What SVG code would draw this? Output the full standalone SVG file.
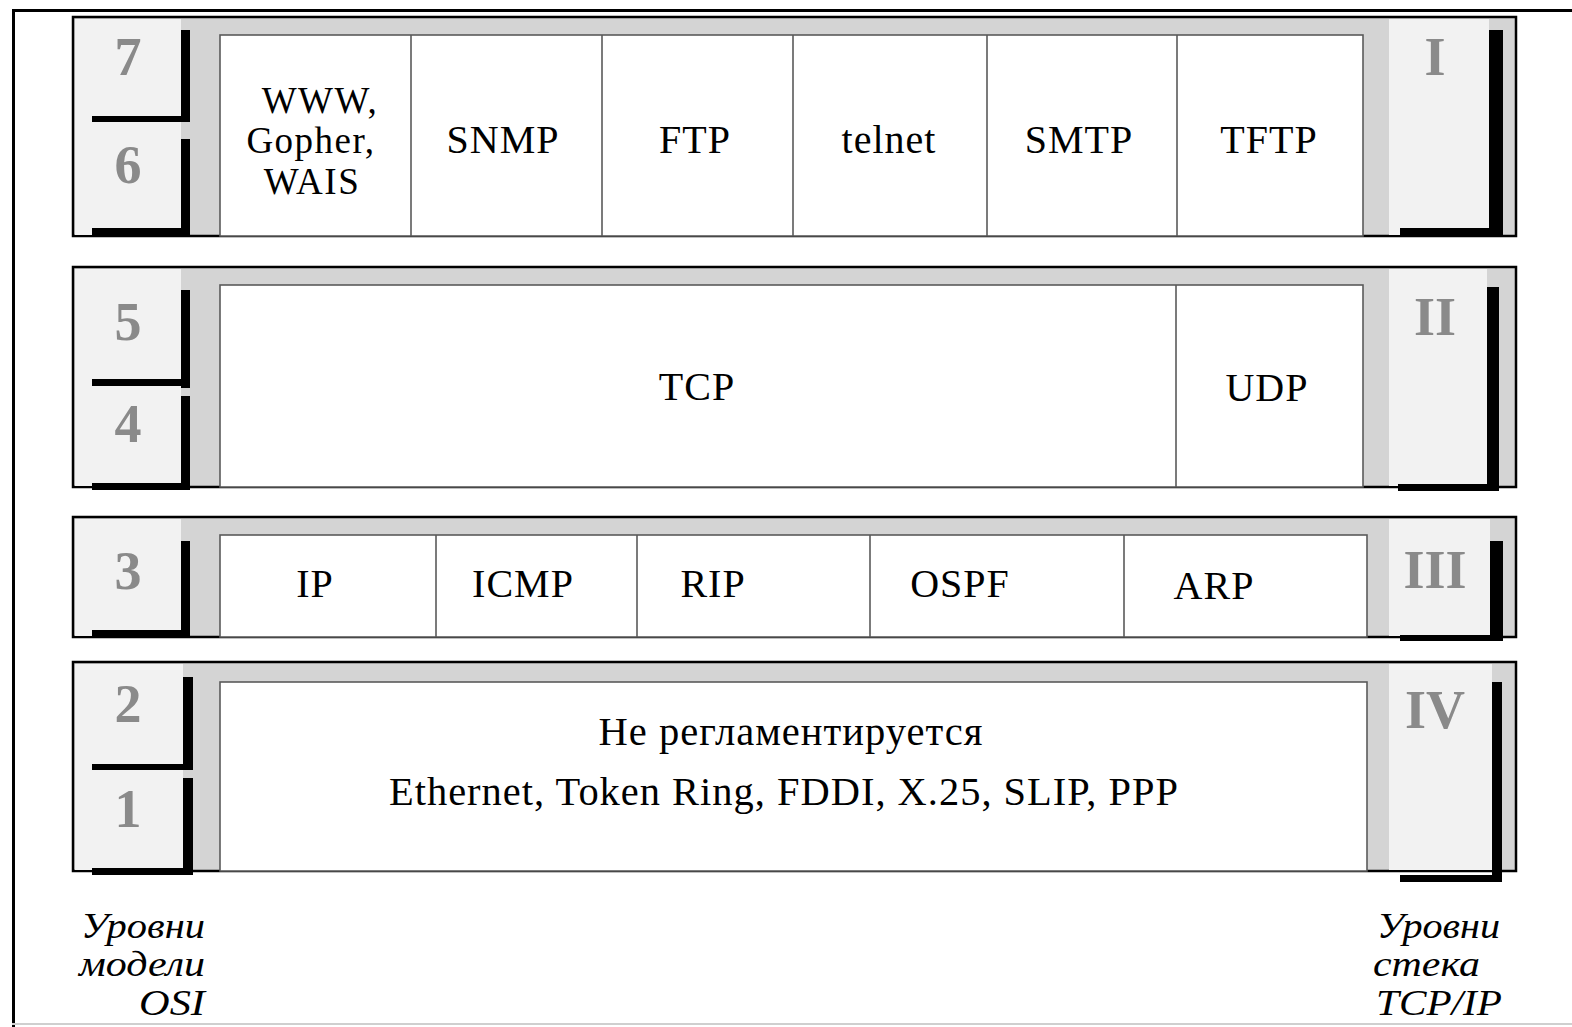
<svg xmlns="http://www.w3.org/2000/svg" width="1572" height="1027" viewBox="0 0 1572 1027">
  <style>
    .band { fill: #d4d4d4; stroke: #000; stroke-width: 2.5; }
    .panel { fill: #f2f2f2; }
    .cell { fill: #fff; stroke: #5a5a5a; stroke-width: 1.6; }
    .div { stroke: #5a5a5a; stroke-width: 1.6; }
    .bar { fill: #000; }
    .proto { font-family: "Liberation Serif", "Times New Roman", serif; font-size: 40px; letter-spacing: 1px; fill: #000; text-anchor: middle; }
    .stack { font-size: 37px; letter-spacing: 1.5px; }
    .num { font-family: "Liberation Serif", "Times New Roman", serif; font-size: 54px; font-weight: bold; fill: #8a8a8a; text-anchor: middle; }
    .cap { font-family: "Liberation Serif", "Times New Roman", serif; font-style: italic; font-size: 35px; fill: #000; }
  </style>

  <rect x="0" y="0" width="1572" height="1027" fill="#fff"/>

  <!-- outer frame -->
  <g id="frame">
    <line x1="12" y1="10.5" x2="1572" y2="10.5" stroke="#000" stroke-width="3"/>
    <line x1="13.5" y1="9" x2="13.5" y2="1027" stroke="#000" stroke-width="3"/>
    <line x1="12" y1="1024" x2="1572" y2="1024" stroke="#cfcfcf" stroke-width="2"/>
  </g>

  <!-- Level I : application (OSI 7, 6) -->
  <g id="band-1">
    <rect class="band" x="73" y="17" width="1443" height="219"/>
    <rect class="panel" x="75" y="19" width="106" height="216"/>
    <rect class="panel" x="1389" y="19" width="100" height="216"/>
    <rect class="cell" x="220" y="35" width="1143" height="201"/>
    <line class="div" x1="411" y1="35" x2="411" y2="236"/>
    <line class="div" x1="602" y1="35" x2="602" y2="236"/>
    <line class="div" x1="793" y1="35" x2="793" y2="236" stroke-width="3"/>
    <line class="div" x1="987" y1="35" x2="987" y2="236"/>
    <line class="div" x1="1177" y1="35" x2="1177" y2="236"/>
    <rect class="bar" x="181" y="30" width="9" height="92"/>
    <rect class="bar" x="92" y="116" width="98" height="6"/>
    <rect class="bar" x="181" y="139" width="9" height="97"/>
    <rect class="bar" x="92" y="228" width="98" height="8"/>
    <rect class="bar" x="1489" y="30" width="14" height="206"/>
    <rect class="bar" x="1400" y="228" width="103" height="8"/>
    <text class="num" x="128" y="75">7</text>
    <text class="num" x="128" y="183">6</text>
    <text class="num" x="1435" y="75">I</text>
  </g>
  <g id="node-www">
    <text class="proto stack" x="320" y="113">WWW,</text>
    <text class="proto stack" x="311" y="153">Gopher,</text>
    <text class="proto stack" x="312" y="194">WAIS</text>
  </g>
  <g id="node-snmp"><text class="proto" x="503" y="153">SNMP</text></g>
  <g id="node-ftp"><text class="proto" x="695" y="153">FTP</text></g>
  <g id="node-telnet"><text class="proto" x="889" y="153">telnet</text></g>
  <g id="node-smtp"><text class="proto" x="1079" y="153">SMTP</text></g>
  <g id="node-tftp"><text class="proto" x="1269" y="153">TFTP</text></g>

  <!-- Level II : transport (OSI 5, 4) -->
  <g id="band-2">
    <rect class="band" x="73" y="267" width="1443" height="220"/>
    <rect class="panel" x="75" y="269" width="106" height="217"/>
    <rect class="panel" x="1389" y="269" width="98" height="217"/>
    <rect class="cell" x="220" y="285" width="1143" height="202"/>
    <line class="div" x1="1176" y1="285" x2="1176" y2="487"/>
    <rect class="bar" x="181" y="290" width="9" height="98"/>
    <rect class="bar" x="92" y="379" width="98" height="7"/>
    <rect class="bar" x="181" y="396" width="9" height="94"/>
    <rect class="bar" x="92" y="483" width="98" height="7"/>
    <rect class="bar" x="1487" y="287" width="12" height="204"/>
    <rect class="bar" x="1398" y="484" width="101" height="7"/>
    <text class="num" x="128" y="340">5</text>
    <text class="num" x="128" y="442">4</text>
    <text class="num" x="1435" y="335">II</text>
  </g>
  <g id="node-tcp"><text class="proto" x="697" y="400">TCP</text></g>
  <g id="node-udp"><text class="proto" x="1267" y="401">UDP</text></g>

  <!-- Level III : internetwork (OSI 3) -->
  <g id="band-3">
    <rect class="band" x="73" y="517" width="1443" height="120"/>
    <rect class="panel" x="75" y="519" width="106" height="117"/>
    <rect class="panel" x="1389" y="519" width="101" height="117"/>
    <rect class="cell" x="220" y="535" width="1147" height="102"/>
    <line class="div" x1="436" y1="535" x2="436" y2="637"/>
    <line class="div" x1="637" y1="535" x2="637" y2="637"/>
    <line class="div" x1="870" y1="535" x2="870" y2="637"/>
    <line class="div" x1="1124" y1="535" x2="1124" y2="637"/>
    <rect class="bar" x="181" y="541" width="9" height="96"/>
    <rect class="bar" x="92" y="630" width="98" height="7"/>
    <rect class="bar" x="1490" y="541" width="13" height="100"/>
    <rect class="bar" x="1400" y="635" width="103" height="6"/>
    <text class="num" x="128" y="589">3</text>
    <text class="num" x="1435" y="588">III</text>
  </g>
  <g id="node-ip"><text class="proto" x="315" y="597">IP</text></g>
  <g id="node-icmp"><text class="proto" x="523" y="597">ICMP</text></g>
  <g id="node-rip"><text class="proto" x="713" y="597">RIP</text></g>
  <g id="node-ospf"><text class="proto" x="960" y="597">OSPF</text></g>
  <g id="node-arp"><text class="proto" x="1214" y="599">ARP</text></g>

  <!-- Level IV : network interface (OSI 2, 1) -->
  <g id="band-4">
    <rect class="band" x="73" y="662" width="1443" height="209"/>
    <rect class="panel" x="75" y="664" width="108" height="206"/>
    <rect class="panel" x="1389" y="664" width="103" height="206"/>
    <rect class="cell" x="220" y="682" width="1147" height="189"/>
    <rect class="bar" x="183" y="677" width="10" height="93"/>
    <rect class="bar" x="92" y="764" width="101" height="6"/>
    <rect class="bar" x="183" y="778" width="10" height="97"/>
    <rect class="bar" x="92" y="868" width="101" height="7"/>
    <rect class="bar" x="1492" y="682" width="10" height="200"/>
    <rect class="bar" x="1400" y="875" width="102" height="7"/>
    <text class="num" x="128" y="722">2</text>
    <text class="num" x="128" y="827">1</text>
    <text class="num" x="1435" y="728">IV</text>
  </g>
  <g id="node-link">
    <text class="proto" x="791" y="745" textLength="385" lengthAdjust="spacingAndGlyphs">Не регламентируется</text>
    <text class="proto" x="784" y="805" textLength="790" lengthAdjust="spacingAndGlyphs">Ethernet, Token Ring, FDDI, X.25, SLIP, PPP</text>
  </g>

  <!-- column captions -->
  <g id="caption-osi">
    <text class="cap" x="205" y="938" text-anchor="end" textLength="124" lengthAdjust="spacingAndGlyphs">Уровни</text>
    <text class="cap" x="205" y="976" text-anchor="end" textLength="126" lengthAdjust="spacingAndGlyphs">модели</text>
    <text class="cap" x="205" y="1015" text-anchor="end" textLength="66" lengthAdjust="spacingAndGlyphs">OSI</text>
  </g>
  <g id="caption-tcpip">
    <text class="cap" x="1377" y="938" textLength="123" lengthAdjust="spacingAndGlyphs">Уровни</text>
    <text class="cap" x="1373" y="976" textLength="107" lengthAdjust="spacingAndGlyphs">стека</text>
    <text class="cap" x="1376" y="1015" textLength="126" lengthAdjust="spacingAndGlyphs">TCP/IP</text>
  </g>
</svg>
